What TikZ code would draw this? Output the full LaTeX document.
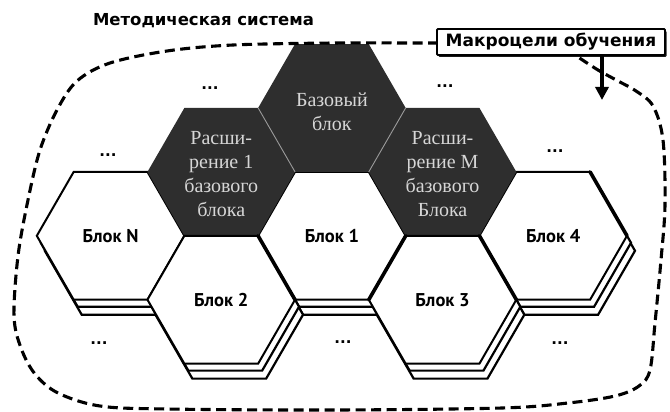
\documentclass[tikz,border=0pt]{standalone}
\usepackage{fontspec}
\usetikzlibrary{shapes.geometric, arrows.meta, shadows}
\newfontfamily\titlefont{DejaVu Sans}
\newfontfamily\labelfont{PT Sans}
\newfontfamily\serifcap{Liberation Serif}
\definecolor{hexdark}{HTML}{2E2E2E}
\definecolor{hexink}{HTML}{D6D6D6}
\definecolor{seam}{HTML}{9A9A9A}
\tikzset{
  hexshape/.style={regular polygon, regular polygon sides=6,
    minimum size=147.6pt, inner sep=0pt, outer sep=0pt},
  whitehex/.style={hexshape, draw=black, fill=white, line width=2pt,
    font=\labelfont\bfseries\fontsize{18.5}{20}\selectfont},
  layerhex/.style={hexshape, draw=black, fill=white, line width=2.2pt},
  darkhex/.style={hexshape, fill=hexdark},
  darktext/.style={text=hexink, align=center, inner sep=0pt,
    font=\serifcap\fontsize{20}{24}\selectfont},
  seamline/.style={draw=seam, line width=0.9pt},
  heavyedge/.style={line width=3.6pt, line cap=round},
  more/.style={anchor=base, inner sep=0pt,
    font=\titlefont\bfseries\fontsize{15}{15}\selectfont},
  boundary/.style={line width=3.1pt, dash pattern=on 10pt off 5.5pt},
  goalbox/.style={draw, fill=white, line width=1.9pt, rounded corners=1pt,
    minimum width=228pt, minimum height=26pt, inner sep=0pt,
    drop shadow={shadow xshift=1.5pt, shadow yshift=-1.8pt, fill=black, opacity=0.9},
    font=\titlefont\bfseries\fontsize{17}{19}\selectfont},
}
\begin{document}
\begin{tikzpicture}[x=1pt, y=-1pt]
\useasboundingbox (0,0) rectangle (670,412);

% upper row of white blocks, each on two stacked layers
\foreach \nm/\x/\y/\txt in {blockN/110.6/235.8/{Блок N},
                            blockA/331.9/235.8/{Блок 1},
                            blockD/553.2/235.8/{Блок 4}}{
  \node[layerhex] (\nm-b) at (\x+8,\y+15) {};
  \node[layerhex] (\nm-a) at (\x+4,\y+7) {};
  \node[whitehex] (\nm) at (\x,\y) {\txt};
}

% dark core: base block and its extensions
\node[darkhex] (ext1) at (221.25,171.9) {};
\node[darkhex] (base) at (331.9,108) {};
\node[darkhex] (extM) at (442.55,171.9) {};
\draw[seamline] (ext1.60) -- (ext1.0);
\draw[seamline] (extM.120) -- (extM.180);
\node[darktext] (baseT) at (331.9,112) {Базовый\\блок};
\node[darktext] (ext1T) at (221.25,174) {Расши-\\рение 1\\базового\\блока};
\node[darktext] (extMT) at (442.55,174) {Расши-\\рение М\\базового\\Блока};

% lower row of white blocks
\foreach \nm/\x/\y/\txt in {blockB/221.25/299.7/{Блок 2},
                            blockC/442.55/299.7/{Блок 3}}{
  \node[layerhex] (\nm-b) at (\x+8,\y+15) {};
  \node[layerhex] (\nm-a) at (\x+4,\y+7) {};
  \node[whitehex] (\nm) at (\x,\y) {\txt};
}

% heavy shared edges
\draw[heavyedge] (blockA.180) -- (blockA.240);
\draw[heavyedge] (blockA.0) -- (blockA.300);
\draw[heavyedge] (blockC.60) -- (blockC.0);
\draw[heavyedge] (blockD.60) -- (blockD.0);

% continuation marks
\node[more] (m1) at (210,90) {...};
\node[more] (m2) at (108,157) {...};
\node[more] (m3) at (445,88) {...};
\node[more] (m4) at (555,153) {...};
\node[more] (m5) at (99,344) {...};
\node[more] (m6) at (343,343) {...};
\node[more] (m7) at (560,344) {...};

% title of the whole system
\node[anchor=base, inner sep=0pt, font=\titlefont\bfseries\fontsize{16.5}{18}\selectfont]
  (title) at (203.5,25.5) {Методическая система};

% system boundary, running from the goals box round to its lower edge
\coordinate (bstart) at (438,43);
\draw[boundary] (bstart) -- plot[smooth, tension=0.55] coordinates {
  (400,43) (333,43) (233,45) (167,51) (110,63) (77,81) (57,110) (40,150)
  (28,200) (18,256) (14,316) (21,348) (35,374) (58,393) (100,406) (167,409)
  (335,410) (502,408) (568,403) (615,396) (639,386) (650,370) (655,323)
  (661,260) (665,205) (663,140) (653,106) (636,91) (618,81) (598,70) (578,57)};

% goals box
\node[goalbox] (goal) at (551,42) {Макроцели обучения};

% goals act on the system
\coordinate (tip) at (602,100);
\draw[line width=3.4pt, -{Triangle[width=13pt,length=13pt]}]
  (goal.south -| tip) -- (tip);
\end{tikzpicture}
\end{document}
